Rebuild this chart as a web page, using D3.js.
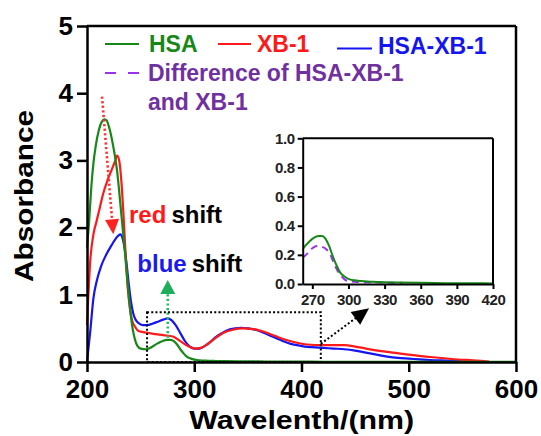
<!DOCTYPE html>
<html>
<head>
<meta charset="utf-8">
<script src="https://cdn.jsdelivr.net/npm/d3@7"></script>
<style>
  body { margin: 0; background: #fff; }
  svg { display: block; font-family: Arial, "Liberation Sans", sans-serif; font-weight: bold; }
</style>
</head>
<body>
<svg id="chart" width="541" height="436"></svg>
<script>
// ---- data ----
// HSA
const hsaX = [200, 202, 204, 206, 208, 211, 214, 216, 218, 221, 224, 228, 232, 235, 238, 240, 242, 244, 247, 250, 255, 260, 265, 270, 275, 278, 281, 284, 287, 290, 293, 297, 300, 305, 310, 320, 330, 340, 360, 380, 420, 500, 600];
const hsaY = [1.7, 2.1, 2.6, 2.96, 3.2, 3.45, 3.58, 3.61, 3.6, 3.47, 3.25, 2.85, 2.2, 1.7, 1.15, 0.82, 0.55, 0.38, 0.24, 0.2, 0.19, 0.22, 0.27, 0.31, 0.33, 0.33, 0.31, 0.26, 0.19, 0.13, 0.08, 0.05, 0.035, 0.025, 0.02, 0.015, 0.012, 0.01, 0.008, 0.006, 0.004, 0.002, 0.001];
// XB-1
const xbX = [200, 201, 203, 206, 209, 212, 215, 219, 223, 226, 228, 230, 232, 234, 236, 238, 240, 242, 245, 248, 258, 271, 280, 287, 295, 301, 306, 312, 320, 328, 336, 345, 355, 365, 375, 385, 395, 405, 420, 440, 450, 460, 480, 500, 520, 540, 560, 570, 575];
const xbY = [0.55, 0.9, 1.5, 1.9, 2.1, 2.3, 2.5, 2.7, 2.86, 2.98, 3.07, 3.0, 2.7, 2.2, 1.6, 1.1, 0.8, 0.62, 0.52, 0.46, 0.43, 0.4, 0.38, 0.31, 0.23, 0.2, 0.21, 0.26, 0.36, 0.44, 0.48, 0.5, 0.49, 0.45, 0.39, 0.33, 0.29, 0.26, 0.25, 0.25, 0.23, 0.2, 0.15, 0.11, 0.074, 0.045, 0.025, 0.015, 0.005];
// HSA-XB-1
const cpxX = [200, 203, 206, 209, 213, 218, 223, 227, 231, 233, 235, 237, 239, 241, 243, 245, 248, 252, 256, 261, 266, 271, 275, 279, 283, 287, 291, 295, 300, 305, 310, 315, 320, 326, 332, 338, 344, 350, 357, 364, 370, 377, 383, 390, 396, 403, 410, 420, 430, 440, 450, 460, 470, 480, 490, 500, 510, 520, 535, 550, 560];
const cpxY = [0, 0.45, 0.95, 1.2, 1.42, 1.6, 1.74, 1.84, 1.9, 1.85, 1.7, 1.45, 1.15, 0.9, 0.73, 0.64, 0.58, 0.55, 0.55, 0.57, 0.6, 0.63, 0.65, 0.62, 0.54, 0.43, 0.32, 0.24, 0.2, 0.2, 0.24, 0.3, 0.37, 0.43, 0.48, 0.5, 0.51, 0.5, 0.48, 0.44, 0.4, 0.35, 0.31, 0.27, 0.25, 0.23, 0.22, 0.21, 0.2, 0.19, 0.17, 0.14, 0.11, 0.08, 0.06, 0.05, 0.04, 0.03, 0.02, 0.01, 0];
// Difference of HSA-XB-1 and XB-1 (only in the inset)
const diffX = [262, 266, 270, 274, 278, 282, 285, 288, 291, 294, 297, 300, 305, 310, 320, 330, 340, 345];
const diffY = [0.18, 0.21, 0.245, 0.26, 0.255, 0.235, 0.2, 0.14, 0.09, 0.055, 0.03, 0.02, 0.015, 0.013, 0.012, 0.01, 0.008, 0.008];

const mainXTicks = [200, 300, 400, 500, 600];
const mainYTicks = [0, 1, 2, 3, 4, 5];
const insetXTicks = [270, 300, 330, 360, 390, 420];
const insetYTicks = [0, 0.2, 0.4, 0.6, 0.8, 1.0];

const C = { hsa: "#178817", xb: "#fe1a1a", cpx: "#1515f0", diffLine: "#9933ee", diffText: "#7030a0" };

const svg = d3.select("#chart");
const zip = (xs, ys) => xs.map((v, i) => [v, ys[i]]);

// ---- main plot ----
const x = d3.scaleLinear().domain([200, 600]).range([87, 516]);
const y = d3.scaleLinear().domain([0, 5]).range([362, 26]);

const line = d3.line().x(d => x(d[0])).y(d => y(d[1])).curve(d3.curveMonotoneX);

const series = [
  { d: zip(xbX, xbY), c: C.xb },
  { d: zip(cpxX, cpxY), c: C.cpx },
  { d: zip(hsaX, hsaY), c: C.hsa }
];
// blue first, then red, green on top
svg.append("g").selectAll("path")
  .data([series[1], series[0], series[2]])
  .join("path")
  .attr("d", s => line(s.d))
  .attr("fill", "none")
  .attr("stroke", s => s.c)
  .attr("stroke-width", 2.2);

// frame top / right
svg.append("line").attr("x1", x(200)).attr("x2", x(600)).attr("y1", y(5)).attr("y2", y(5))
  .attr("stroke", "#000").attr("stroke-width", 2.5);
svg.append("line").attr("x1", x(600)).attr("x2", x(600)).attr("y1", y(5)).attr("y2", y(0))
  .attr("stroke", "#000").attr("stroke-width", 2.5);

const gx = svg.append("g").attr("transform", `translate(0, ${y(0)})`)
  .call(d3.axisBottom(x).tickValues(mainXTicks).tickSize(10).tickSizeOuter(0).tickPadding(8));
const gy = svg.append("g").attr("transform", `translate(${x(200)}, 0)`)
  .call(d3.axisLeft(y).tickValues(mainYTicks).tickFormat(d3.format("d")).tickSize(10).tickSizeOuter(0).tickPadding(4));
[gx, gy].forEach(g => {
  g.selectAll("path, line").attr("stroke", "#000").attr("stroke-width", 2.5);
  g.selectAll("text").attr("font-size", 26).attr("font-weight", "bold")
    .attr("font-family", "Arial, 'Liberation Sans', sans-serif").attr("fill", "#000");
});

// axis titles
svg.append("text").attr("x", 301.7).attr("y", 429).attr("text-anchor", "middle")
  .attr("font-size", 25).attr("textLength", 225).attr("lengthAdjust", "spacingAndGlyphs")
  .text("Wavelenth/(nm)");
svg.append("text").attr("transform", "translate(33, 196) rotate(-90)").attr("text-anchor", "middle")
  .attr("font-size", 25).attr("textLength", 172).attr("lengthAdjust", "spacingAndGlyphs")
  .text("Absorbance");

// ---- annotations ----
function arrowHead(g, tipX, tipY, angle, len, half, color) {
  const bx = tipX - len * Math.cos(angle), by = tipY - len * Math.sin(angle);
  const px = -Math.sin(angle) * half, py = Math.cos(angle) * half;
  g.append("path")
    .attr("d", `M${tipX},${tipY}L${bx + px},${by + py}L${bx - px},${by - py}Z`)
    .attr("fill", color);
}
const ann = svg.append("g");

// red shift arrow
{
  const x1 = x(214), y1 = y(3.95), x2 = x(224.5), y2 = y(1.9);
  const a = Math.atan2(y2 - y1, x2 - x1);
  ann.append("line").attr("x1", x1).attr("y1", y1)
    .attr("x2", x2 - 14 * Math.cos(a)).attr("y2", y2 - 14 * Math.sin(a))
    .attr("stroke", "#ff3030").attr("stroke-width", 2.6).attr("stroke-dasharray", "2.2,2.4");
  arrowHead(ann, x2, y2, a, 15, 7, "#ff2020");
}
// blue shift arrow (green dotted, upward)
{
  const x1 = x(275.3), y1 = y(0.36), y2 = y(1.22);
  ann.append("line").attr("x1", x1).attr("y1", y1).attr("x2", x1).attr("y2", y2 + 13)
    .attr("stroke", "#22bb66").attr("stroke-width", 2.6).attr("stroke-dasharray", "2.2,2.4");
  arrowHead(ann, x1, y2, -Math.PI / 2, 14, 7.5, "#1fae5c");
}
// zoom rectangle + arrow to inset
ann.append("rect")
  .attr("x", x(256)).attr("y", y(0.74))
  .attr("width", x(418) - x(256)).attr("height", y(0) - y(0.74))
  .attr("fill", "none").attr("stroke", "#000").attr("stroke-width", 2).attr("stroke-dasharray", "2,2.2");
{
  const x1 = x(418), y1 = y(0.27), x2 = x(463), y2 = y(0.8);
  const a = Math.atan2(y2 - y1, x2 - x1);
  ann.append("line").attr("x1", x1).attr("y1", y1)
    .attr("x2", x2 - 13 * Math.cos(a)).attr("y2", y2 - 13 * Math.sin(a))
    .attr("stroke", "#000").attr("stroke-width", 2).attr("stroke-dasharray", "2,2.2");
  arrowHead(ann, x2, y2, a, 17, 8, "#000");
}

// shift labels
const t1 = ann.append("text").attr("x", x(239.2)).attr("y", y(2.07)).attr("font-size", 24);
t1.append("tspan").attr("fill", "#ff1a1a").text("red");
t1.append("tspan").attr("fill", "#000").attr("dx", 5).text("shift");
const t2 = ann.append("text").attr("x", x(246.9)).attr("y", y(1.34)).attr("font-size", 24);
t2.append("tspan").attr("fill", "#1a1af0").text("blue");
t2.append("tspan").attr("fill", "#000").attr("dx", 5).text("shift");

// ---- legend ----
const lg = svg.append("g").attr("font-size", 23);
const legendItems = [
  { x1: 105, x2: 139, ly: 44, tx: 149, ty: 52, label: "HSA", c: C.hsa, tc: C.hsa },
  { x1: 218, x2: 251, ly: 44, tx: 257, ty: 52, label: "XB-1", c: C.xb, tc: C.xb },
  { x1: 337, x2: 372, ly: 48.5, tx: 378, ty: 54, label: "HSA-XB-1", c: C.cpx, tc: C.cpx }
];
legendItems.forEach(it => {
  lg.append("line").attr("x1", it.x1).attr("x2", it.x2).attr("y1", it.ly).attr("y2", it.ly)
    .attr("stroke", it.c).attr("stroke-width", 2.2);
  lg.append("text").attr("x", it.tx).attr("y", it.ty).attr("fill", it.tc).text(it.label);
});
lg.append("line").attr("x1", 105).attr("x2", 139).attr("y1", 73).attr("y2", 73)
  .attr("stroke", C.diffLine).attr("stroke-width", 2.2).attr("stroke-dasharray", "11,12");
lg.append("text").attr("x", 148).attr("y", 81).attr("fill", C.diffText).text("Difference of HSA-XB-1");
lg.append("text").attr("x", 148).attr("y", 110).attr("fill", C.diffText).text("and XB-1");

// ---- inset ----
const ix = d3.scaleLinear().domain([262, 420]).range([302.7, 493]);
const iy = d3.scaleLinear().domain([0, 1]).range([284, 138.3]);
const inset = svg.append("g");
inset.append("clipPath").attr("id", "insetClip").append("rect")
  .attr("x", ix(262)).attr("y", iy(1)).attr("width", ix(420) - ix(262)).attr("height", iy(0) - iy(1));
const iline = d3.line().x(d => ix(d[0])).y(d => iy(d[1])).curve(d3.curveMonotoneX);
const ig = inset.append("g").attr("clip-path", "url(#insetClip)");
ig.append("path").attr("d", iline(zip(diffX, diffY)))
  .attr("fill", "none").attr("stroke", C.diffLine).attr("stroke-width", 2).attr("stroke-dasharray", "7,5");
ig.append("path").attr("d", iline(zip(hsaX, hsaY)))
  .attr("fill", "none").attr("stroke", C.hsa).attr("stroke-width", 2);

inset.append("line").attr("x1", ix(262)).attr("x2", ix(420)).attr("y1", iy(1)).attr("y2", iy(1))
  .attr("stroke", "#000").attr("stroke-width", 2);
inset.append("line").attr("x1", ix(420)).attr("x2", ix(420)).attr("y1", iy(1)).attr("y2", iy(0))
  .attr("stroke", "#000").attr("stroke-width", 2);
const igx = inset.append("g").attr("transform", `translate(0, ${iy(0)})`)
  .call(d3.axisBottom(ix).tickValues(insetXTicks).tickSize(5).tickSizeOuter(0).tickPadding(5));
const igy = inset.append("g").attr("transform", `translate(${ix(262)}, 0)`)
  .call(d3.axisLeft(iy).tickValues(insetYTicks).tickSize(5).tickSizeOuter(0).tickPadding(3).tickFormat(d3.format(".1f")));
[igx, igy].forEach(g => {
  g.selectAll("path, line").attr("stroke", "#000").attr("stroke-width", 2);
  g.selectAll("text").attr("font-size", 15).attr("font-weight", "bold").attr("letter-spacing", -0.4)
    .attr("font-family", "Arial, 'Liberation Sans', sans-serif").attr("fill", "#222");
});
</script>
</body>
</html>
